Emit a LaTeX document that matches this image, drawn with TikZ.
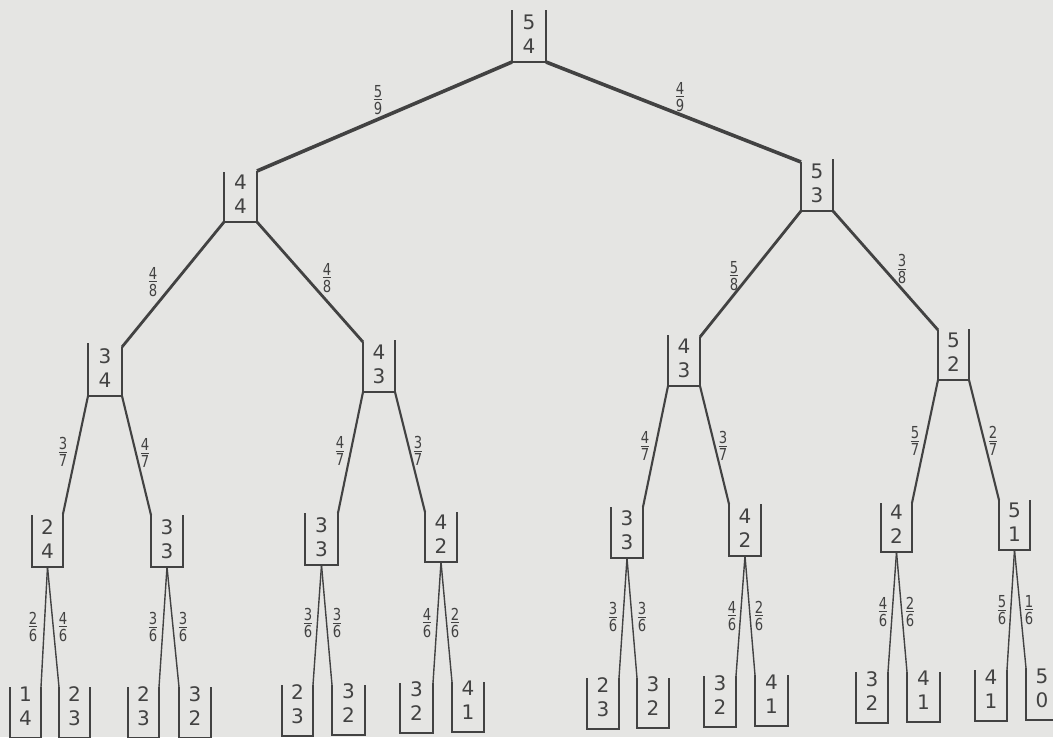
\documentclass[tikz,border=0pt]{standalone}
\usepackage{fontspec}
\setmainfont{DejaVu Sans}
\newfontfamily\fracfont[FakeStretch=0.8]{DejaVu Sans}
\definecolor{paper}{RGB}{229,229,227}
\definecolor{ink}{RGB}{66,66,66}
\newcommand\fr[2]{{\fracfont\fontsize{16.5}{18}\selectfont\vbox{\halign{\hfil##\hfil\cr#1\cr\noalign{\kern1.8pt\hrule height0.8pt\kern1.8pt}#2\cr}}}}
\tikzset{
  wall/.style={draw=ink, line width=2pt},
  leafwall/.style={draw=ink, line width=1.7pt},
  digit/.style={inner sep=0pt, text=ink, font=\fontsize{20}{20}\selectfont},
  frac/.style={inner sep=0pt, text=ink},
  eA/.style={draw=ink, line width=3.6pt},
  eB/.style={draw=ink, line width=2.8pt},
  eC/.style={draw=ink, line width=2.1pt},
  eD/.style={draw=ink, line width=1.4pt},
}
% name, xl, xr, ytopleft, ytopright, ybottom, upper, lower
\newcommand\urn[8]{%
  \coordinate (#1-tl) at (#2,#4);
  \coordinate (#1-tr) at (#3,#5);
  \coordinate (#1-bl) at (#2,#6);
  \coordinate (#1-br) at (#3,#6);
  \coordinate (#1-b) at ({(#2+#3)/2},#6);
  \draw[wall] (#1-tl) -- (#1-bl) -- (#1-br) -- (#1-tr);
  \node[digit] (#1-u) at ({(#2+#3)/2},{#6-40}) {#7};
  \node[digit] (#1-l) at ({(#2+#3)/2},{#6-16}) {#8};
}
\newcommand\leaf[8]{%
  \coordinate (#1-tl) at (#2,#4);
  \coordinate (#1-tr) at (#3,#5);
  \coordinate (#1-bl) at (#2,#6);
  \coordinate (#1-br) at (#3,#6);
  \draw[leafwall] (#1-tl) -- (#1-bl) -- (#1-br) -- (#1-tr);
  \node[digit] (#1-u) at ({(#2+#3)/2},{#6-44}) {#7};
  \node[digit] (#1-l) at ({(#2+#3)/2},{#6-20}) {#8};
}
\begin{document}
\begin{tikzpicture}[x=1pt,y=-1pt]
\useasboundingbox (0,0) rectangle (1053,737);
\fill[paper] (0,0) rectangle (1053,737);
\clip (0,0) rectangle (1053,737);

% root and level 1
\urn{r}{512}{546}{10}{10}{62}{5}{4}
\urn{a}{224}{257}{172}{171}{222}{4}{4}
\urn{b}{801}{833}{162}{159}{211}{5}{3}
% level 2
\urn{aa}{88}{122}{343}{347}{396}{3}{4}
\urn{ab}{363}{395}{342}{340}{392}{4}{3}
\urn{ba}{668}{700}{335}{337}{386}{4}{3}
\urn{bb}{938}{969}{330}{329}{380}{5}{2}
% level 3
\urn{aaa}{32}{63}{515}{514}{567}{2}{4}
\urn{aab}{151}{183}{515}{515}{567}{3}{3}
\urn{aba}{305}{338}{513}{513}{565}{3}{3}
\urn{abb}{425}{457}{512}{512}{562}{4}{2}
\urn{baa}{611}{643}{507}{507}{558}{3}{3}
\urn{bab}{729}{761}{504}{504}{556}{4}{2}
\urn{bba}{881}{912}{503}{503}{552}{4}{2}
\urn{bbb}{999}{1030}{500}{500}{550}{5}{1}
% leaves
\leaf{l1}{10}{41}{687}{687}{738}{1}{4}
\leaf{l2}{59}{90}{687}{687}{738}{2}{3}
\leaf{l3}{128}{159}{687}{687}{738}{2}{3}
\leaf{l4}{179}{211}{687}{687}{738}{3}{2}
\leaf{l5}{282}{313}{685}{685}{736}{2}{3}
\leaf{l6}{332}{365}{685}{685}{735}{3}{2}
\leaf{l7}{400}{433}{683}{683}{733}{3}{2}
\leaf{l8}{452}{484}{682}{682}{732}{4}{1}
\leaf{l9}{587}{619}{678}{678}{729}{2}{3}
\leaf{l10}{637}{669}{678}{678}{728}{3}{2}
\leaf{l11}{704}{736}{676}{676}{727}{3}{2}
\leaf{l12}{755}{788}{675}{675}{726}{4}{1}
\leaf{l13}{856}{888}{672}{672}{723}{3}{2}
\leaf{l14}{907}{940}{672}{672}{722}{4}{1}
\leaf{l15}{975}{1007}{670}{670}{721}{4}{1}
\leaf{l16}{1026}{1058}{668}{668}{720}{5}{0}

% connectors
\draw[eA] (r-bl) -- (a-tr);
\draw[eA] (r-br) -- (b-tl);
\draw[eB] (a-bl) -- (aa-tr);
\draw[eB] (a-br) -- (ab-tl);
\draw[eB] (b-bl) -- (ba-tr);
\draw[eB] (b-br) -- (bb-tl);
\draw[eC] (aa-bl) -- (aaa-tr);
\draw[eC] (aa-br) -- (aab-tl);
\draw[eC] (ab-bl) -- (aba-tr);
\draw[eC] (ab-br) -- (abb-tl);
\draw[eC] (ba-bl) -- (baa-tr);
\draw[eC] (ba-br) -- (bab-tl);
\draw[eC] (bb-bl) -- (bba-tr);
\draw[eC] (bb-br) -- (bbb-tl);
\draw[eD] (aaa-b) -- (l1-tr);
\draw[eD] (aaa-b) -- (l2-tl);
\draw[eD] (aab-b) -- (l3-tr);
\draw[eD] (aab-b) -- (l4-tl);
\draw[eD] (aba-b) -- (l5-tr);
\draw[eD] (aba-b) -- (l6-tl);
\draw[eD] (abb-b) -- (l7-tr);
\draw[eD] (abb-b) -- (l8-tl);
\draw[eD] (baa-b) -- (l9-tr);
\draw[eD] (baa-b) -- (l10-tl);
\draw[eD] (bab-b) -- (l11-tr);
\draw[eD] (bab-b) -- (l12-tl);
\draw[eD] (bba-b) -- (l13-tr);
\draw[eD] (bba-b) -- (l14-tl);
\draw[eD] (bbb-b) -- (l15-tr);
\draw[eD] (bbb-b) -- (l16-tl);

% probabilities
\node[frac] (p1) at (378,100) {\fr59};
\node[frac] (p2) at (680,97) {\fr49};
\node[frac] (p3) at (153,282) {\fr48};
\node[frac] (p4) at (327,278) {\fr48};
\node[frac] (p5) at (734,276) {\fr58};
\node[frac] (p6) at (902,269) {\fr38};
\node[frac] (p7) at (63,452) {\fr37};
\node[frac] (p8) at (145,453) {\fr47};
\node[frac] (p9) at (340,451) {\fr47};
\node[frac] (p10) at (418,451) {\fr37};
\node[frac] (p11) at (645,446) {\fr47};
\node[frac] (p12) at (723,446) {\fr37};
\node[frac] (p13) at (915,441) {\fr57};
\node[frac] (p14) at (993,441) {\fr27};
\node[frac] (q1) at (33,627) {\fr26};
\node[frac] (q2) at (63,627) {\fr46};
\node[frac] (q3) at (153,627) {\fr36};
\node[frac] (q4) at (183,627) {\fr36};
\node[frac] (q5) at (308,623) {\fr36};
\node[frac] (q6) at (337,623) {\fr36};
\node[frac] (q7) at (427,623) {\fr46};
\node[frac] (q8) at (455,623) {\fr26};
\node[frac] (q9) at (613,617) {\fr36};
\node[frac] (q10) at (642,617) {\fr36};
\node[frac] (q11) at (732,616) {\fr46};
\node[frac] (q12) at (759,616) {\fr26};
\node[frac] (q13) at (883,612) {\fr46};
\node[frac] (q14) at (910,612) {\fr26};
\node[frac] (q15) at (1002,610) {\fr56};
\node[frac] (q16) at (1029,610) {\fr16};
\end{tikzpicture}
\end{document}
